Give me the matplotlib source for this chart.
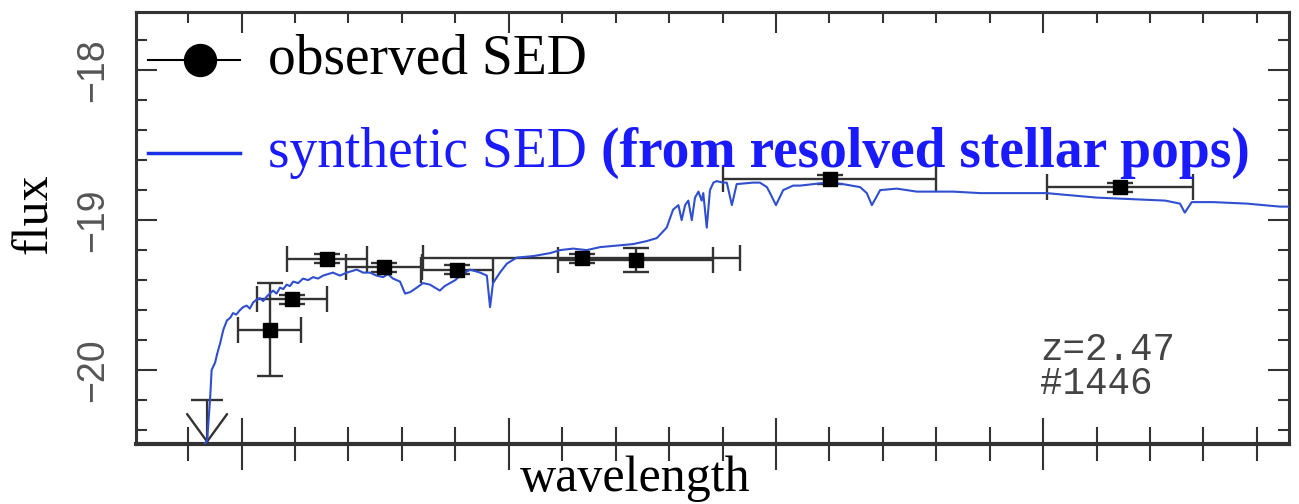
import numpy as np
import matplotlib
matplotlib.use('Agg')
import matplotlib.pyplot as plt
from matplotlib.ticker import MultipleLocator

# observed photometry (x in arbitrary wavelength units, y = log flux)
obs_x = [1.106, 1.188, 1.319, 1.533, 1.807, 2.273, 2.476, 3.201, 4.287]
obs_y = [-19.73, -19.527, -19.257, -19.315, -19.33, -19.255, -19.267, -18.727, -18.78]
obs_xerr = [0.118, 0.131, 0.150, 0.142, 0.135, 0.593, 0.290, 0.399, 0.273]
obs_yerr = [0.31, 0.03, 0.03, 0.03, 0.03, 0.03, 0.08, 0.03, 0.03]

# upper limit point
lim_x = 0.871
lim_y = -20.2
lim_xerr = 0.06

# synthetic SED
syn_x = [0.863, 0.871, 0.882, 0.888, 0.901, 0.909, 0.920, 0.932, 0.945, 0.958,
         0.968, 0.980, 0.994, 1.006, 1.019, 1.031, 1.043, 1.056, 1.069, 1.081,
         1.094, 1.106, 1.118, 1.131, 1.144, 1.156, 1.169, 1.181, 1.193, 1.212,
         1.230, 1.249, 1.268, 1.286, 1.305, 1.323, 1.342, 1.368, 1.394, 1.412,
         1.431, 1.455, 1.481, 1.505, 1.530, 1.548, 1.567, 1.580, 1.593, 1.612,
         1.631, 1.656, 1.679, 1.705, 1.742, 1.760, 1.780, 1.800, 1.818, 1.855,
         1.893, 1.918, 1.930, 1.941, 1.967, 1.993, 2.030, 2.091, 2.155, 2.192,
         2.241, 2.292, 2.342, 2.404, 2.465, 2.491, 2.516, 2.554, 2.591, 2.615,
         2.635, 2.647, 2.660, 2.672, 2.685, 2.697, 2.710, 2.722, 2.728, 2.741,
         2.753, 2.766, 2.778, 2.802, 2.816, 2.835, 2.853, 2.914, 2.940, 2.966,
         2.978, 3.000, 3.027, 3.064, 3.090, 3.139, 3.190, 3.251, 3.315, 3.340,
         3.359, 3.390, 3.452, 3.527, 3.602, 3.663, 3.764, 3.887, 3.962, 4.013,
         4.074, 4.201, 4.325, 4.457, 4.512, 4.530, 4.556, 4.636, 4.762, 4.886,
         4.916]
syn_y = [-20.49, -20.47, -20.20, -20.00, -19.95, -19.89, -19.82, -19.73, -19.67, -19.65,
         -19.62, -19.63, -19.60, -19.58, -19.57, -19.59, -19.55, -19.53, -19.52, -19.54,
         -19.51, -19.49, -19.47, -19.49, -19.45, -19.46, -19.43, -19.44, -19.41, -19.42,
         -19.39, -19.40, -19.38, -19.39, -19.37, -19.36, -19.35, -19.37, -19.35, -19.34,
         -19.33, -19.35, -19.35, -19.37, -19.38, -19.36, -19.39, -19.40, -19.41, -19.49,
         -19.48, -19.45, -19.42, -19.43, -19.47, -19.44, -19.42, -19.40, -19.37, -19.33,
         -19.35, -19.37, -19.58, -19.42, -19.35, -19.29, -19.25, -19.24, -19.22, -19.20,
         -19.19, -19.20, -19.18, -19.17, -19.16, -19.15, -19.14, -19.12, -19.05, -18.93,
         -18.90, -19.00, -18.90, -18.87, -19.00, -18.85, -18.81, -18.87, -18.82, -19.05,
         -18.80, -18.75, -18.74, -18.75, -18.75, -18.90, -18.76, -18.75, -18.75, -18.78,
         -18.82, -18.90, -18.80, -18.77, -18.77, -18.76, -18.75, -18.76, -18.78, -18.82,
         -18.90, -18.80, -18.79, -18.81, -18.81, -18.81, -18.82, -18.82, -18.82, -18.82,
         -18.83, -18.85, -18.86, -18.87, -18.89, -18.95, -18.88, -18.88, -18.89, -18.91,
         -18.91]

fig = plt.figure(figsize=(12.99, 5.04), dpi=100)
ax = fig.add_axes([0.1047, 0.119, 0.8876, 0.857])

ecol = '#333333'
ax.errorbar(obs_x, obs_y, xerr=obs_xerr, yerr=obs_yerr, fmt='none',
            ecolor=ecol, elinewidth=1.7, capsize=9.5, capthick=1.7, zorder=2)
ax.plot(syn_x, syn_y, color='#2f4fd0', lw=1.5, zorder=3)
ax.plot(obs_x, obs_y, 's', color='black', ms=10.5, zorder=4)

# upper limit: horizontal bar + downward arrow
ax.errorbar([lim_x], [lim_y], xerr=[lim_xerr], fmt='none', ecolor=ecol,
            elinewidth=1.7, capsize=0, zorder=2)
ax.annotate('', xy=(lim_x, -20.49), xytext=(lim_x, lim_y),
            arrowprops=dict(arrowstyle='->, head_length=0.55, head_width=0.4',
                            color=ecol, lw=1.7, mutation_scale=36,
                            shrinkA=0, shrinkB=0), zorder=2)

ax.set_xlim(0.605, 4.92)
ax.set_ylim(-20.493, -17.613)

ax.xaxis.set_major_locator(MultipleLocator(1))
ax.xaxis.set_minor_locator(MultipleLocator(0.2))
ax.yaxis.set_major_locator(MultipleLocator(1))
ax.yaxis.set_minor_locator(MultipleLocator(0.2))

ax.tick_params(which='both', direction='in', right=True, top=False,
               color='#333333', width=1.5, labelbottom=False)
ax.tick_params(which='major', length=15)
ax.tick_params(which='minor', length=8)
ax.tick_params(axis='x', which='major', direction='inout', length=38)
ax.tick_params(axis='x', which='minor', direction='inout', length=24)
ax.tick_params(axis='y', labelsize=27, labelcolor='#555555', pad=18)
for lab in ax.get_yticklabels():
    lab.set_rotation(90)
    lab.set_va('center')
    lab.set_family('Liberation Sans')

# top axis: inward ticks only
top = ax.secondary_xaxis('top')
top.xaxis.set_major_locator(MultipleLocator(1))
top.xaxis.set_minor_locator(MultipleLocator(0.2))
top.tick_params(which='both', direction='in', color='#333333', width=1.5,
                labeltop=False)
top.tick_params(which='major', length=15)
top.tick_params(which='minor', length=8)
top.spines['top'].set_linewidth(2.2)
top.spines['top'].set_color('#333333')

for s in ax.spines.values():
    s.set_linewidth(2.2)
    s.set_color('#333333')
ax.spines['bottom'].set_linewidth(3)

serif = 'Liberation Serif'
fig.text(0.027, 0.577, 'flux', rotation=90, ha='center', va='center',
         fontsize=36, family=serif)
fig.text(0.489, 0.05, 'wavelength', ha='center', va='center',
         fontsize=36, family=serif)

# hand-made legend
ax.plot([0.0104, 0.090], [0.889, 0.889], transform=ax.transAxes, color='black',
        lw=1.5, zorder=5, clip_on=False)
ax.plot([0.0555], [0.889], 'o', transform=ax.transAxes, color='black',
        ms=23, zorder=5, clip_on=False)
ax.text(0.1145, 0.889, 'observed SED', transform=ax.transAxes, fontsize=40,
        family=serif, va='center', ha='left')
ax.plot([0.0104, 0.090], [0.674, 0.674], transform=ax.transAxes, color='#1a2fe8',
        lw=2.5, zorder=5, clip_on=False)
t1 = ax.text(0.1145, 0.674, 'synthetic SED ', transform=ax.transAxes, fontsize=40,
             family=serif, va='center', ha='left', color='#1a1aff')
ax.annotate('(from resolved stellar pops)', xy=(1, 0), xycoords=t1,
            va='bottom', ha='left', fontsize=40, family=serif,
            fontweight='bold', color='#1a1aff')

ax.text(0.784, 0.218, 'z=2.47', transform=ax.transAxes, fontsize=27,
        family='Liberation Mono', color='#444444', va='center')
ax.text(0.784, 0.138, '#1446', transform=ax.transAxes, fontsize=27,
        family='Liberation Mono', color='#444444', va='center')

fig.savefig('out.png', dpi=100)
